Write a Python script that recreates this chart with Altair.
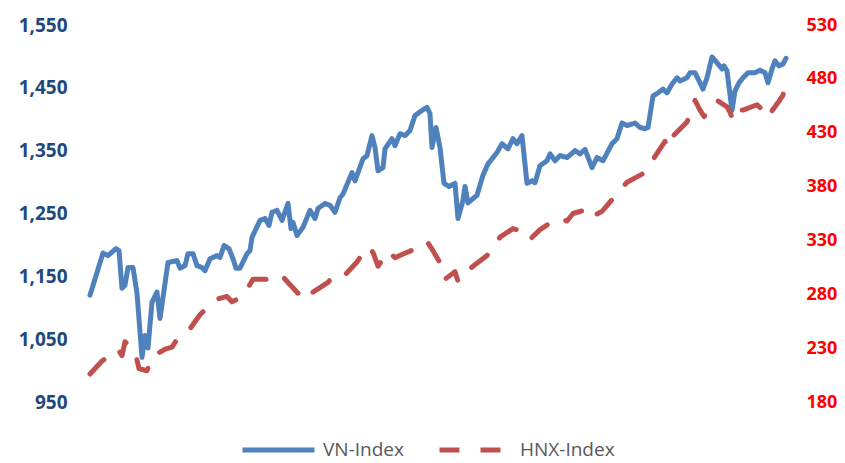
import altair as alt
import pandas as pd

# Session index (trading days, relative) and VN-Index closing values
vn_t = [0, 13, 18, 26, 29, 32, 35, 38, 43, 47, 52, 55, 58, 62, 67, 70, 78, 87, 90, 95,
        98, 103, 107, 112, 115, 120, 127, 130, 134, 139, 143, 146, 150, 157, 160, 162, 170, 175, 179, 182,
        187, 192, 198, 201, 203, 207, 213, 220, 225, 228, 235, 240, 245, 250, 253, 262, 265, 273, 277, 282,
        285, 288, 293, 295, 302, 305, 310, 315, 320, 325, 332, 337, 340, 342, 346, 350, 354, 359, 365, 368,
        373, 375, 378, 387, 393, 398, 403, 407, 412, 418, 423, 427, 432, 437, 442, 445, 450, 457, 460, 465,
        470, 477, 485, 490, 495, 502, 507, 513, 522, 527, 532, 537, 545, 550, 555, 558, 563, 568, 573, 577,
        582, 587, 590, 597, 600, 605, 610, 613, 617, 622, 627, 632, 634, 637, 642, 645, 649, 653, 658, 665,
        670, 675, 678, 682, 685, 689, 693, 696]
vn_v = [1120, 1187, 1183, 1194, 1191, 1131, 1136, 1164, 1164, 1123, 1021, 1056, 1036, 1109, 1125, 1083, 1172, 1175, 1163, 1167,
        1186, 1186, 1167, 1164, 1159, 1178, 1183, 1180, 1199, 1194, 1178, 1163, 1163, 1186, 1191, 1212, 1239, 1242, 1231, 1252,
        1255, 1239, 1266, 1226, 1236, 1215, 1228, 1255, 1242, 1258, 1266, 1263, 1252, 1275, 1281, 1315, 1302, 1337, 1342, 1374,
        1355, 1318, 1323, 1353, 1369, 1358, 1377, 1374, 1382, 1406, 1414, 1419, 1409, 1355, 1387, 1355, 1298, 1293, 1298, 1242,
        1271, 1293, 1267, 1279, 1311, 1329, 1339, 1347, 1361, 1353, 1369, 1361, 1374, 1298, 1302, 1299, 1326, 1334, 1345, 1334,
        1342, 1339, 1350, 1345, 1352, 1323, 1339, 1334, 1361, 1369, 1394, 1390, 1394, 1387, 1385, 1387, 1437, 1442, 1448, 1442,
        1456, 1466, 1461, 1466, 1474, 1474, 1458, 1448, 1466, 1499, 1490, 1480, 1485, 1477, 1414, 1445, 1458, 1466, 1474, 1474,
        1478, 1474, 1458, 1480, 1493, 1485, 1488, 1497]

# HNX-Index closing values
hnx_t = [0, 12, 28, 32, 35, 45, 49, 57, 62, 75, 82, 87, 100, 110, 125, 137, 142, 153, 163, 183,
         188, 193, 208, 213, 218, 223, 238, 243, 253, 267, 277, 283, 288, 298, 305, 312, 330, 337, 342, 352,
         355, 365, 368, 372, 383, 397, 410, 423, 437, 440, 450, 468, 477, 483, 498, 502, 512, 525, 537, 555,
         565, 575, 577, 582, 597, 602, 605, 610, 614, 627, 637, 640, 643, 648, 653, 667, 673, 677, 688, 693,
         695]
hnx_v = [206, 218, 229, 223, 236, 227, 211, 209, 222, 229, 231, 238, 248, 261, 275, 278, 273, 278, 294, 294,
         292, 296, 281, 283, 277, 282, 291, 297, 296, 310, 324, 319, 306, 320, 314, 317, 324, 329, 322, 306,
         294, 301, 292, 298, 306, 316, 333, 341, 337, 331, 340, 351, 348, 355, 359, 352, 357, 371, 384, 393,
         408, 422, 416, 426, 440, 451, 460, 451, 445, 460, 454, 449, 442, 452, 451, 456, 451, 444, 458, 465,
         473]

series_names = ["VN-Index", "HNX-Index"]
series_colors = ["#4F81BD", "#C0504D"]
left_ticks = [950, 1050, 1150, 1250, 1350, 1450, 1550]
right_ticks = [180, 230, 280, 330, 380, 430, 480, 530]

vn_df = pd.DataFrame({"t": vn_t, "value": vn_v, "series": series_names[0]})
hnx_df = pd.DataFrame({"t": hnx_t, "value": hnx_v, "series": series_names[1]})

x_enc = alt.X("t:Q", axis=None, scale=alt.Scale(domain=[0, 700], nice=False, zero=False))
color_enc = alt.Color("series:N", title=None,
                      scale=alt.Scale(domain=series_names, range=series_colors),
                      legend=alt.Legend(orient="none", legendX=150, legendY=415, direction="horizontal",
                                        symbolType="stroke", symbolSize=5184, symbolStrokeWidth=5,
                                        clipHeight=20, labelFontSize=19, labelColor="#595959",
                                        labelFont="Open Sans", labelOffset=6, columnPadding=33,
                                        padding=0))
dash_enc = alt.StrokeDash("series:N", title=None,
                          scale=alt.Scale(domain=series_names, range=[[1, 0], [20, 21]]))

vn_line = alt.Chart(vn_df).mark_line(strokeWidth=5, strokeCap="round", strokeJoin="round").encode(
    x=x_enc,
    y=alt.Y("value:Q", title=None,
            scale=alt.Scale(domain=[950, 1550], nice=False, zero=False),
            axis=alt.Axis(orient="left", values=left_ticks, format=",.0f", grid=False, domain=False,
                          ticks=False, tickSize=0, labelPadding=23, labelFontSize=19,
                          labelFontWeight="bold", labelColor="#1F497D", labelFont="Open Sans")),
    color=color_enc,
    strokeDash=dash_enc,
)

hnx_line = alt.Chart(hnx_df).mark_line(strokeWidth=5, strokeCap="round", strokeJoin="round").encode(
    x=x_enc,
    y=alt.Y("value:Q", title=None,
            scale=alt.Scale(domain=[180, 530], nice=False, zero=False),
            axis=alt.Axis(orient="right", values=right_ticks, format=".0f", grid=False, domain=False,
                          ticks=False, tickSize=0, labelPadding=16, labelFontSize=18,
                          labelFontWeight="bold", labelColor="#FF0000", labelFont="Open Sans")),
    color=color_enc,
    strokeDash=dash_enc,
)

chart = alt.layer(vn_line, hnx_line).resolve_scale(y="independent").properties(
    width=700, height=377,
    autosize=alt.AutoSizeParams(type="none"),
    padding={"left": 82, "top": 17, "right": 47, "bottom": 66},
).configure(font="Open Sans").configure_view(stroke=None)

chart.save("out.html", embed_options={"renderer": "svg", "actions": False})
